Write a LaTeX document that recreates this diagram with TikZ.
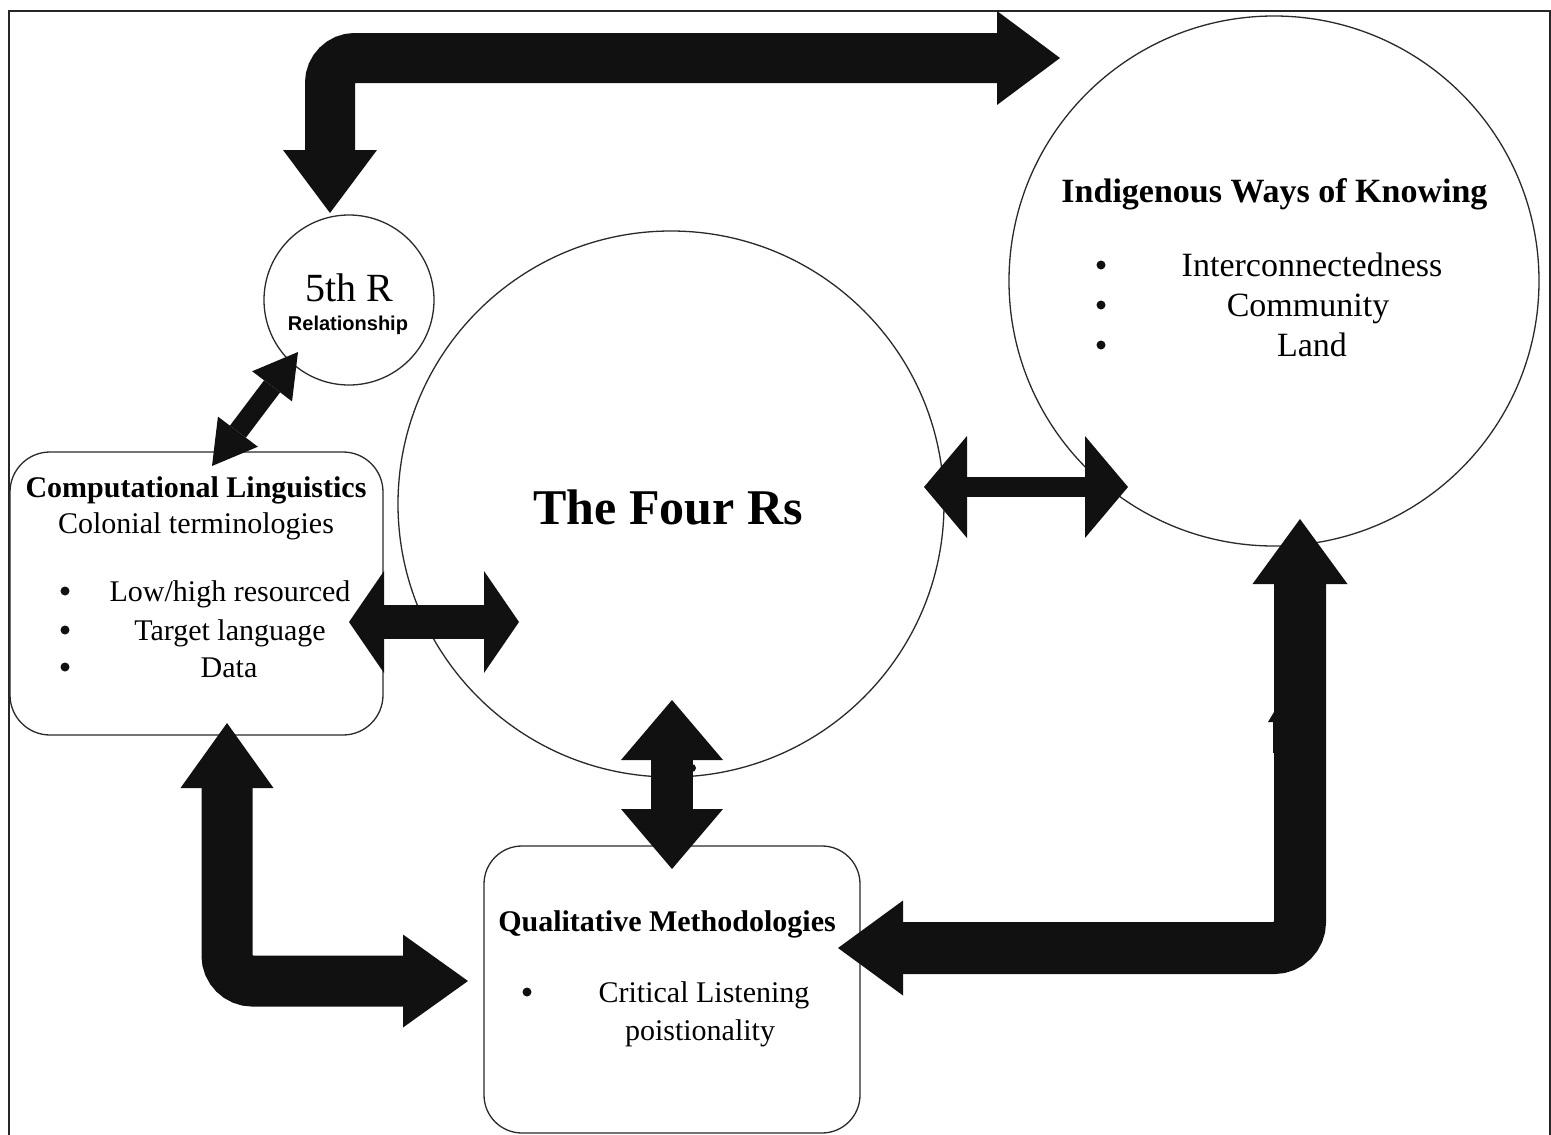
\documentclass[tikz,border=0pt]{standalone}
\usepackage{fontspec}
\setmainfont{Liberation Serif}
\newfontfamily\sansfam{Liberation Sans}
\usetikzlibrary{arrows.meta}
\definecolor{ink}{HTML}{111111}
\definecolor{edge}{HTML}{2A2A2A}
\begin{document}
\begin{tikzpicture}[x=1pt,y=-1pt,
  shapeline/.style={draw=edge, line width=1.3pt},
  blk/.style={draw=ink, line width=#1},
  tip/.style n args={2}{-{Triangle[length=#1, width=#2, line width=0pt]}},
  dtip/.style n args={2}{{Triangle[length=#1, width=#2, line width=0pt]}-{Triangle[length=#1, width=#2, line width=0pt]}},
  bt/.style={anchor=base, inner sep=0pt, font=\fontsize{30}{36}\selectfont},
  bti/.style={anchor=base, inner sep=0pt, font=\fontsize{34}{40}\selectfont},
  bul/.style={circle, fill=ink, inner sep=0pt, minimum size=9pt},
]
\useasboundingbox (0,0) rectangle (1551,1135);
\fill[white] (0,0) rectangle (1551,1135);
% frame
\draw[line width=2pt, black!85] (9,1136) -- (9,11) -- (1550,11) -- (1550,1136);

% shapes
\node[circle, shapeline, minimum size=170pt, inner sep=0pt] (fifth) at (349,300) {};
\node[circle, shapeline, minimum size=546pt, inner sep=0pt] (four) at (671,504) {};
\node[circle, shapeline, minimum size=530pt, inner sep=0pt] (ind) at (1274,281) {};
\node[shapeline, rounded corners=40pt, minimum width=373pt, minimum height=283pt, inner sep=0pt] (comp) at (196.5,593.5) {};
\node[shapeline, rounded corners=38pt, minimum width=376pt, minimum height=287pt, inner sep=0pt] (qual) at (672,989.5) {};

% connector end points
\coordinate (topA) at (330,213);
\coordinate (topB) at (1060,58);
\coordinate (dA) at (298,352);
\coordinate (dB) at (212,466);
\coordinate (hA) at (349,622);
\coordinate (hB) at (519,622);
\coordinate (rA) at (924,487);
\coordinate (rB) at (1128,487);
\coordinate (vA) at (672,700);
\coordinate (vB) at (672,869);
\coordinate (lA) at (227,723);
\coordinate (lB) at (468,981);
\coordinate (qA) at (838,948);
\coordinate (qB) at (1300,519);
\coordinate (sA) at (1274,753);
\coordinate (sB) at (1274,712);
\coordinate (dot) at (692,768);

% block arrows
\draw[blk=50pt, rounded corners=25pt, dtip={63pt}{94pt}] (topA) |- (topB);
\draw[blk=20pt, dtip={43pt}{50pt}] (dA) -- (dB);
\draw[blk=34pt, dtip={35pt}{102pt}] (hA) -- (hB);
\draw[blk=20pt, dtip={43pt}{102pt}] (rA) -- (rB);
\draw[blk=42pt, dtip={60pt}{102pt}] (vA) -- (vB);
\draw[blk=51pt, rounded corners=25.5pt, dtip={65pt}{93pt}] (lA) |- (lB);
\draw[blk=52pt, rounded corners=26pt, dtip={65pt}{95pt}] (qA) -| (qB);
\draw[ink, line width=1.2pt, tip={10pt}{12pt}] (sA) -- (sB);
\fill[ink] (dot) circle (4pt);

% texts
\node[anchor=base, inner sep=0pt, font=\fontsize{40}{44}\selectfont] (t5) at (349,301) {5th R};
\node[anchor=base, inner sep=0pt, font=\sansfam\bfseries\fontsize{20}{24}\selectfont] (t5b) at (348,330) {Relationship};
\node[anchor=base, inner sep=0pt, font=\bfseries\fontsize{50}{56}\selectfont] (t4) at (668,524) {The Four Rs};

\node[bti, font=\bfseries\fontsize{34}{40}\selectfont] (ti) at (1274.5,202) {Indigenous Ways of Knowing};
\node[bul] (ib1) at (1101,265) {};
\node[bul] (ib2) at (1101,305) {};
\node[bul] (ib3) at (1101,345) {};
\node[bti] (i1) at (1312,276) {Interconnectedness};
\node[bti] (i2) at (1308,316) {Community};
\node[bti] (i3) at (1312,356) {Land};

\node[bt, font=\bfseries\fontsize{30}{36}\selectfont] (tc) at (196,497) {Computational Linguistics};
\node[bt] (c0) at (196,533) {Colonial terminologies};
\node[bul] (cb1) at (65,591) {};
\node[bul] (cb2) at (65,630) {};
\node[bul] (cb3) at (65,667) {};
\node[bt] (c1) at (230,601) {Low/high resourced};
\node[bt] (c2) at (230,640) {Target language};
\node[bt] (c3) at (229,677) {Data};

\node[bt, font=\bfseries\fontsize{30}{36}\selectfont] (tq) at (667,931) {Qualitative Methodologies};
\node[bul] (qb1) at (527,992) {};
\node[bt] (q1) at (704,1002) {Critical Listening};
\node[bt] (q2) at (700,1040) {poistionality};
\end{tikzpicture}
\end{document}
